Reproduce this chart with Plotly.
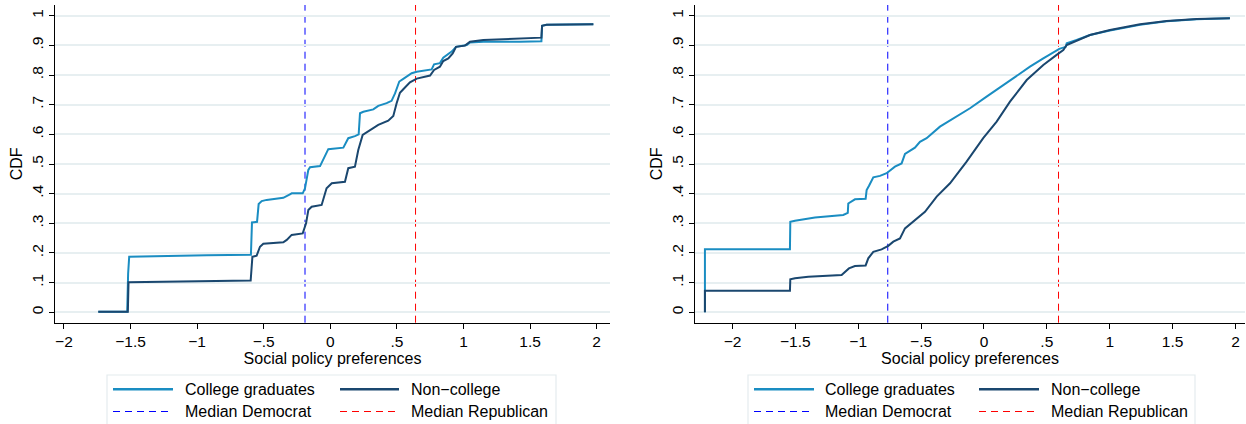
import plotly.graph_objects as go

W, H = 1246, 424

# ---------------- data ----------------
x_ticks = [-2, -1.5, -1, -0.5, 0, 0.5, 1, 1.5, 2]
x_tick_text = ["−2", "−1.5", "−1", "−.5", "0", ".5", "1", "1.5", "2"]
y_ticks = [0, 0.1, 0.2, 0.3, 0.4, 0.5, 0.6, 0.7, 0.8, 0.9, 1.0]
y_tick_text = ["0", ".1", ".2", ".3", ".4", ".5", ".6", ".7", ".8", ".9", "1"]

# Left panel
left_college_x = [-1.742, -1.525, -1.518, -1.510, -0.928, -0.596, -0.588, -0.550, -0.538, -0.515,
                  -0.478, -0.353, -0.303, -0.290, -0.207, -0.190, -0.165, -0.152, -0.077, -0.040,
                  -0.015, 0.098, 0.135, 0.185, 0.213, 0.223, 0.248, 0.323, 0.360, 0.423,
                  0.460, 0.486, 0.518, 0.548, 0.611, 0.649, 0.761, 0.779, 0.823, 0.848,
                  0.878, 0.911, 0.944, 1.024, 1.049, 1.149, 1.424, 1.585, 1.590, 1.624, 1.975]
left_college_y = [0.002, 0.002, 0.130, 0.187, 0.192, 0.194, 0.303, 0.305, 0.365, 0.375,
                  0.379, 0.386, 0.398, 0.401, 0.401, 0.418, 0.480, 0.489, 0.493, 0.530,
                  0.550, 0.555, 0.587, 0.594, 0.600, 0.671, 0.676, 0.684, 0.696, 0.705,
                  0.713, 0.738, 0.778, 0.787, 0.806, 0.811, 0.819, 0.836, 0.840, 0.858,
                  0.867, 0.879, 0.895, 0.901, 0.910, 0.912, 0.912, 0.914, 0.966, 0.969, 0.971]
left_noncollege_x = [-1.742, -1.520, -1.515, -0.928, -0.598, -0.585, -0.553, -0.528, -0.503, -0.353,
                     -0.327, -0.290, -0.207, -0.182, -0.165, -0.140, -0.065, -0.028, 0.011, 0.110,
                     0.135, 0.185, 0.210, 0.243, 0.298, 0.360, 0.435, 0.473, 0.498, 0.523,
                     0.548, 0.598, 0.649, 0.749, 0.779, 0.823, 0.848, 0.886, 0.919, 0.944,
                     1.011, 1.049, 1.149, 1.424, 1.585, 1.590, 1.624, 1.975]
left_noncollege_y = [0.002, 0.002, 0.101, 0.105, 0.107, 0.187, 0.191, 0.221, 0.231, 0.236,
                     0.244, 0.261, 0.266, 0.300, 0.345, 0.356, 0.362, 0.418, 0.435, 0.440,
                     0.486, 0.491, 0.547, 0.598, 0.615, 0.632, 0.646, 0.662, 0.705, 0.740,
                     0.752, 0.775, 0.788, 0.798, 0.817, 0.828, 0.847, 0.856, 0.873, 0.895,
                     0.899, 0.912, 0.918, 0.924, 0.926, 0.966, 0.969, 0.971]
left_median_dem = -0.19
left_median_rep = 0.64

# Right panel
right_college_x = [-2.219, -2.219, -1.543, -1.540, -1.503, -1.450, -1.344, -1.119, -1.083, -1.079,
                   -1.026, -0.941, -0.933, -0.915, -0.880, -0.827, -0.774, -0.708, -0.655, -0.628,
                   -0.549, -0.509, -0.456, -0.350, -0.111, 0.021, 0.207, 0.366, 0.472, 0.599,
                   0.650, 0.658, 0.737, 0.843, 1.002, 1.241, 1.453, 1.692, 1.956]
right_college_y = [0.000, 0.213, 0.213, 0.305, 0.309, 0.313, 0.320, 0.328, 0.335, 0.367,
                   0.381, 0.383, 0.412, 0.426, 0.455, 0.460, 0.469, 0.491, 0.502, 0.534,
                   0.555, 0.575, 0.587, 0.626, 0.688, 0.727, 0.783, 0.828, 0.856, 0.888,
                   0.895, 0.907, 0.918, 0.935, 0.950, 0.969, 0.981, 0.988, 0.991]
right_noncollege_x = [-2.219, -2.219, -1.543, -1.540, -1.503, -1.397, -1.132, -1.074, -1.026, -0.941,
                      -0.920, -0.880, -0.814, -0.761, -0.721, -0.668, -0.628, -0.562, -0.469, -0.376,
                      -0.270, -0.138, -0.006, 0.101, 0.207, 0.340, 0.472, 0.578, 0.631, 0.658,
                      0.737, 0.843, 1.002, 1.241, 1.453, 1.692, 1.956]
right_noncollege_y = [0.000, 0.073, 0.073, 0.111, 0.115, 0.120, 0.126, 0.148, 0.156, 0.158,
                      0.182, 0.204, 0.212, 0.224, 0.238, 0.249, 0.283, 0.305, 0.339, 0.390,
                      0.435, 0.508, 0.587, 0.643, 0.710, 0.783, 0.834, 0.868, 0.884, 0.901,
                      0.915, 0.935, 0.952, 0.971, 0.982, 0.989, 0.991]
right_median_dem = -0.765
right_median_rep = 0.593

series_names = ["College graduates", "Non−college", "Median Democrat", "Median Republican"]

# ---------------- styles ----------------
C_LIGHT = "#1a8dc2"
C_DARK = "#1a476f"
C_DEM = "#0000ff"
C_REP = "#ff0000"
GRID = "#e7eff1"
FONT = "Liberation Sans, Arial, sans-serif"
DASH = "7px,5px"
TICK_SIZE = 15.5
TEXT_SIZE = 16

fig = go.Figure()

def add_panel(xa, ya, cx, cy, nx, ny):
    fig.add_trace(go.Scatter(x=cx, y=cy, mode="lines", line=dict(color=C_LIGHT, width=2),
                             xaxis=xa, yaxis=ya, showlegend=False, name=series_names[0]))
    fig.add_trace(go.Scatter(x=nx, y=ny, mode="lines", line=dict(color=C_DARK, width=2),
                             xaxis=xa, yaxis=ya, showlegend=False, name=series_names[1]))

add_panel("x", "y", left_college_x, left_college_y, left_noncollege_x, left_noncollege_y)
add_panel("x2", "y2", right_college_x, right_college_y, right_noncollege_x, right_noncollege_y)

# median lines (data x, full plot height)
for xr, yr, vd, vr in [("x", "y", left_median_dem, left_median_rep),
                       ("x2", "y2", right_median_dem, right_median_rep)]:
    fig.add_shape(type="line", xref=xr, yref=yr + " domain", x0=vd, x1=vd, y0=0, y1=1,
                  line=dict(color=C_DEM, width=1, dash=DASH), layer="below")
    fig.add_shape(type="line", xref=xr, yref=yr + " domain", x0=vr, x1=vr, y0=0, y1=1,
                  line=dict(color=C_REP, width=1, dash=DASH), layer="below")

# axes geometry (pixels)
plot_top, plot_bot = 5, 322.7
yd = [(H - plot_bot) / H, (H - plot_top) / H]
left_dom = [55 / W, 610 / W]
right_dom = [695 / W, 1245 / W]

def xaxis_cfg(dom, rng, anchor):
    return dict(domain=dom, range=rng, anchor=anchor, tickvals=x_ticks, ticktext=x_tick_text,
                showgrid=False, zeroline=False, showline=True, linecolor="black", linewidth=1.2,
                ticks="outside", ticklen=5, tickcolor="black", tickwidth=1.2,
                tickfont=dict(size=TICK_SIZE, color="black", family=FONT),
                title=dict(text="Social policy preferences",
                           font=dict(size=TEXT_SIZE, color="black", family=FONT), standoff=1))

def yaxis_cfg(rng, anchor):
    return dict(domain=yd, range=rng, anchor=anchor, tickvals=y_ticks, ticktext=y_tick_text,
                showgrid=True, gridcolor=GRID, gridwidth=1.5, zeroline=False,
                showline=True, linecolor="black", linewidth=1.2,
                ticks="outside", ticklen=5, tickcolor="black", tickwidth=1.2, tickangle=-90,
                tickfont=dict(size=TICK_SIZE, color="black", family=FONT),
                title=dict(text="CDF", font=dict(size=TEXT_SIZE, color="black", family=FONT), standoff=2))

y_range = [-0.035, 1.036]
fig.update_layout(
    width=W, height=H, margin=dict(l=0, r=0, t=0, b=0),
    paper_bgcolor="white", plot_bgcolor="white",
    font=dict(family=FONT, color="black"),
    xaxis=xaxis_cfg(left_dom, [-2.067, 2.10], "y"),
    yaxis=yaxis_cfg(y_range, "x"),
    xaxis2=xaxis_cfg(right_dom, [-2.298, 2.076], "y2"),
    yaxis2=yaxis_cfg(y_range, "x2"),
    showlegend=False,
)

# ---------------- manual legends ----------------
def px_x(v):
    return v / W

def px_y(v):
    return (H - v) / H

legend_specs = [
    # box x0, x1, sample1 x0,x1, text1 x, sample2 x0,x1, text2 x
    (107, 556, 113, 173, 183, 340, 399, 409),
    (748, 1195, 754, 814, 823, 979, 1039, 1049),
]
row_y = [389.3, 411.5]
for bx0, bx1, s1a, s1b, t1, s2a, s2b, t2 in legend_specs:
    fig.add_shape(type="rect", xref="paper", yref="paper", x0=px_x(bx0), x1=px_x(bx1),
                  y0=px_y(440), y1=px_y(375), line=dict(color="#e4ecee", width=1.2),
                  fillcolor="white", layer="below")
    entries = [
        (s1a, s1b, t1, row_y[0], C_LIGHT, 2.5, None, series_names[0]),
        (s2a, s2b, t2, row_y[0], C_DARK, 2.5, None, series_names[1]),
        (s1a, s1b, t1, row_y[1], C_DEM, 1.1, DASH, series_names[2]),
        (s2a, s2b, t2, row_y[1], C_REP, 1.1, DASH, series_names[3]),
    ]
    for a, b, t, ry, col, wdt, dash, label in entries:
        ln = dict(color=col, width=wdt)
        if dash:
            ln["dash"] = dash
        fig.add_shape(type="line", xref="paper", yref="paper", x0=px_x(a), x1=px_x(b),
                      y0=px_y(ry), y1=px_y(ry), line=ln)
        fig.add_annotation(xref="paper", yref="paper", x=px_x(t), y=px_y(ry), text=label,
                           showarrow=False, xanchor="left", yanchor="middle",
                           font=dict(size=TEXT_SIZE, color="black", family=FONT))

fig.write_html("out.html")
